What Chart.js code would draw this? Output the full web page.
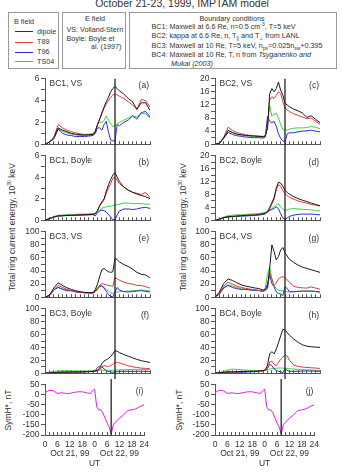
<!DOCTYPE html>
<html>
<head>
<meta charset="utf-8">
<script src="https://cdn.jsdelivr.net/npm/chart.js@4.4.1/dist/chart.umd.min.js"></script>
<style>
  body { margin: 0; background: #fff; }
  #page { position: relative; width: 342px; height: 472px; overflow: hidden;
          font-family: "Liberation Sans", Arial, sans-serif; color: #333; }
  canvas { position: absolute; }
  .title { position: absolute; left: 0; width: 364px; top: -2.5px; text-align: center;
           font-size: 10.5px; line-height: 10.5px; }
  .box { position: absolute; top: 12px; height: 57px; border: 1px solid #999; box-sizing: border-box;
         font-size: 7.2px; line-height: 9px; }
  .t { position: absolute; white-space: nowrap; }
  .sw { position: absolute; left: 6px; width: 18px; height: 0; border-top: 1px solid; }
  sup, sub { font-size: 5px; line-height: 0; }
  .ylab { position: absolute; white-space: nowrap; font-size: 8.5px;
          transform: translate(-50%, -50%) rotate(-90deg); }
</style>
</head>
<body>
<div id="page">
  <div class="title">October 21-23, 1999, IMPTAM model</div>

  <div class="box" style="left:8px;width:51px">
    <div class="t" style="left:5px;top:3.5px">B field</div>
    <div class="sw" style="top:18px;border-color:#333"></div><div class="t" style="left:28px;top:13.5px">dipole</div>
    <div class="sw" style="top:28.5px;border-color:#e8383b"></div><div class="t" style="left:28px;top:24px">T89</div>
    <div class="sw" style="top:38.5px;border-color:#2b2bd6"></div><div class="t" style="left:28px;top:34px">T96</div>
    <div class="sw" style="top:48px;border-color:#3bd43b"></div><div class="t" style="left:28px;top:43.5px">TS04</div>
  </div>

  <div class="box" style="left:62px;width:64px">
    <div class="t" style="left:0;width:64px;text-align:center;top:1px">E field</div>
    <div class="t" style="left:3.5px;top:11.5px">VS: Volland-Stern</div>
    <div class="t" style="left:3.5px;top:20.5px">Boyle: Boyle et</div>
    <div class="t" style="left:28px;top:29px">al. (1997)</div>
  </div>

  <div class="box" style="left:129px;width:208px">
    <div class="t" style="left:0;width:204px;text-align:center;top:1px">Boundary conditions</div>
    <div class="t" style="left:21.5px;top:9px">BC1: Maxwell at 6.6 Re, n=0.5 cm<sup>-3</sup>, T=5 keV</div>
    <div class="t" style="left:21.5px;top:18px">BC2: kappa at 6.6 Re, n, T<sub>||</sub> and T<sub>⊥</sub> from LANL</div>
    <div class="t" style="left:21.5px;top:27.5px">BC3: Maxwell at 10 Re, T=5 keV, n<sub>ps</sub>=0.025n<sub>sw</sub>+0.395</div>
    <div class="t" style="left:21.5px;top:36.5px">BC4: Maxwell at 10 Re, T, n from <i>Tsyganenko and</i></div>
    <div class="t" style="left:41px;top:45.5px"><i>Mukai (2003)</i></div>
  </div>

  <div class="ylab" style="left:11.5px;top:226.5px">Total ring current energy, 10<sup>30</sup> keV</div>
  <div class="ylab" style="left:182.5px;top:226.5px">Total ring current energy, 10<sup>30</sup> keV</div>
  <div class="ylab" style="left:8px;top:410px">SymH*, nT</div>
  <div class="ylab" style="left:178.5px;top:410px">SymH*, nT</div>
</div>

<script>
// hours since Oct 21, 1999 00 UT
const hours = [0,2,4,6,8,10,12,14,16,18,20,22,23,24,25,26,27,28,29,30,31,32,33,34,36,38,40,42,44,46,48];
const eventHour = 32;
const dayLabels = ['Oct 21, 99', 'Oct 22, 99'];
const modelNames = ['dipole', 'T89', 'T96', 'TS04'];

// (a) BC1, VS
const bc1VsDipole = [0,0.2,0.6,1.5,1.3,1.15,1.0,0.92,0.87,0.85,0.88,0.9,1.2,1.8,2.3,2.9,3.4,3.9,4.3,4.8,5.1,5.3,5.1,4.9,4.6,4.2,3.9,3.2,3.8,3.8,3.1];
const bc1VsT89    = [0,0.2,0.6,1.8,1.5,1.3,1.15,1.05,0.95,0.9,0.92,0.95,1.2,1.8,2.3,2.8,3.3,3.7,4.0,4.3,4.5,4.6,4.5,4.4,4.2,3.9,3.6,3.2,4.1,4.0,3.4];
const bc1VsT96    = [0,0.2,0.5,1.4,1.0,0.85,0.8,0.7,0.72,0.7,0.75,0.8,1.0,1.5,1.5,1.3,1.8,2.1,1.1,0.4,0.3,0.3,1.8,1.7,2.0,2.2,2.6,2.3,2.9,3.0,2.5];
const bc1VsTS04   = [0,0.2,0.5,1.4,1.2,1.05,0.95,0.85,0.82,0.8,0.8,0.82,1.1,1.8,2.0,2.0,2.2,2.6,2.2,1.9,1.6,1.7,1.9,2.0,2.2,2.4,2.6,2.5,2.8,2.8,2.4];

// (b) BC1, Boyle
const bc1BoyleDipole = [0,0.15,0.3,0.4,0.42,0.45,0.45,0.47,0.5,0.5,0.53,0.55,0.6,0.9,1.4,1.7,2.0,2.7,3.3,3.8,4.2,4.45,4.0,3.6,3.1,2.8,2.6,2.45,2.3,2.2,2.0];
const bc1BoyleT89    = [0,0.15,0.3,0.4,0.42,0.45,0.47,0.48,0.5,0.52,0.55,0.57,0.6,0.9,1.3,1.6,1.9,2.5,3.0,3.4,3.9,4.0,3.7,3.4,3.1,2.8,2.6,2.5,2.4,2.6,2.1];
const bc1BoyleT96    = [0,0.15,0.3,0.4,0.42,0.44,0.45,0.46,0.48,0.5,0.5,0.52,0.4,0.7,0.85,0.95,0.9,0.75,0.55,0.3,0.05,0.05,0.5,0.85,1.05,1.05,1.0,1.05,1.15,1.2,1.1];
const bc1BoyleTS04   = [0,0.15,0.35,0.45,0.5,0.52,0.55,0.55,0.57,0.58,0.6,0.6,0.65,0.8,0.95,1.1,1.2,1.25,1.3,1.3,1.35,1.4,1.45,1.5,1.6,1.6,1.55,1.55,1.55,1.5,1.5];

// (c) BC2, VS
const bc2VsDipole = [0,0.3,2.0,4.2,3.6,3.1,2.9,2.7,2.6,2.5,2.4,2.3,2.6,5.0,15.5,17,16,17,19,16.5,15,12.5,12,11.5,10.7,10.2,9.5,8.2,8.7,7.6,6.6];
const bc2VsT89    = [0,0.3,2.2,5.2,4.2,3.6,3.2,2.9,2.7,2.6,2.5,2.4,2.6,5.0,13.5,14.5,14,15,16,15.5,13,11,10.5,10,9.3,8.8,8.3,7.8,8.0,7.0,6.1];
const bc2VsT96    = [0,0.3,1.8,3.6,3.0,2.6,2.4,2.2,2.1,2.0,2.0,1.9,2.2,8.5,7.0,6.5,7.0,5.5,3.2,1.8,1.0,0.8,3.2,3.5,3.5,3.8,4.0,4.1,4.3,4.0,3.8];
const bc2VsTS04   = [0,0.3,2.0,4.2,3.5,3.0,2.8,2.6,2.5,2.4,2.3,2.2,2.5,6.0,11.8,8.5,9.2,9.4,8.0,6.0,4.5,4.2,4.3,4.6,4.9,5.0,5.0,5.1,5.4,5.2,4.7];

// (d) BC2, Boyle
const bc2BoyleDipole = [0,0.3,0.8,1.1,1.2,1.3,1.4,1.5,1.6,1.6,1.8,2.0,2.2,2.6,4.0,5.5,7.0,10,11.8,11.5,10.6,9.3,8.6,8.1,7.3,6.7,6.2,5.8,5.3,4.9,4.5];
const bc2BoyleT89    = [0,0.3,0.8,1.1,1.2,1.3,1.4,1.5,1.6,1.6,1.8,2.0,2.2,2.5,3.5,5.0,6.5,9.5,11,10.5,9.2,8.3,7.6,7.1,6.5,6.0,5.6,5.3,4.9,4.7,4.4];
const bc2BoyleT96    = [0,0.3,0.8,1.0,1.1,1.2,1.3,1.3,1.4,1.5,1.6,1.8,2.0,2.6,3.0,3.3,3.7,4.1,3.6,2.0,0.7,0.3,0.7,1.2,1.6,1.8,1.9,1.9,1.9,1.8,1.7];
const bc2BoyleTS04   = [0,0.4,1.0,1.4,1.6,1.7,1.7,1.8,1.9,2.0,2.1,2.3,2.5,2.8,3.2,3.6,4.2,4.8,5.1,4.2,3.4,3.0,3.2,3.5,3.6,3.5,3.4,3.3,3.2,3.0,2.9];

// (e) BC3, VS
const bc3VsDipole = [0,3,14,22,18,14.5,12,10,8.5,7.5,7,7,12,20,32,42,44,41,39,38,39,60,57,54,50,47,43,38,35,34,29.5];
const bc3VsT89    = [0,2,11,18,15,12,10,8.5,7.5,6.8,6.4,6.4,8,12,18,21,20,19,18,17.5,17,30,28,26,23,21,20,18,18,16,14];
const bc3VsT96    = [0,3,11,15,12,10,10,8,7.5,7,6.8,6.5,10,13,16,17,14,9,4,1.5,0.5,8,15,11,8.5,8,8.5,9.5,10,9,8];
const bc3VsTS04   = [0,3,12,15,13,11,9.5,8.3,7.5,7,6.7,6.6,10,15,18,18,15,12,9,7,6,7.5,8,8.5,9,9.5,10,10.5,11,10.5,9.5];

// (f) BC3, Boyle
const bc3BoyleDipole = [0,0.5,1.2,1.5,1.7,1.8,2,2,2.2,2.4,2.6,3,3.5,4.5,8,15,19,21,23,26,30,35,34,32,29,26.5,24,21.5,19.5,18,16.7];
const bc3BoyleT89    = [0,0.5,1.2,1.5,1.7,1.8,2,2,2.2,2.4,2.6,3,3.2,3.5,5,10,12,11,10.5,12,14,17,17,16,14,11.5,10,9,8,7.5,7];
const bc3BoyleT96    = [0,0.5,1,1.3,1.5,1.5,1.6,1.7,1.8,2,2.5,3,4,9,10.8,9.5,7,4,2.8,2,1.5,2,2.5,3,3,3,3,3,3,3,3];
const bc3BoyleTS04   = [0,1.5,3,3.5,4,4,3.8,3.6,3.5,3.5,3.7,4,4.5,5,5.5,5,4.5,4.5,4.5,4.5,4.5,5,5,5.2,5.5,5.8,6,6,6,5.8,5.5];

// (g) BC4, VS
const bc4VsDipole = [0,8,21,28,25.6,22,19,17,15.8,14.3,13.3,11,12,16,45,80,70,57,62,72,76,68,63,58,53,49,46,44,42,40,38];
const bc4VsT89    = [0,6,17,23,20,17,15,13.5,12.5,11.5,10.5,9,10,13,38,28,18,21.7,28,30.5,31.5,29.5,26.6,23,16.7,15,14.3,14,15.8,14,12.3];
const bc4VsT96    = [0,5,14,18,15,13,12,12,11,10.5,10,9,12,20,34,20.7,15.8,8.4,5.9,4.9,2.5,15.8,13.3,8.4,8.4,9,9.4,9.4,9.4,9,8];
const bc4VsTS04   = [0,5,15,19,17,15,13,12,11.5,11,10.5,10,14,35,46,28,18,13.3,10.8,9.8,10,8.4,8.4,8.5,8.4,9,9.4,9.4,9.4,8.5,7.4];

// (h) BC4, Boyle
const bc4BoyleDipole = [0,1,1.5,2,2.3,2.5,2.7,2.8,3,3,3.5,4,5,12.8,30,33.5,30,37.5,47,58,68,67,63,59,53,48,44,42,41,40.5,40];
const bc4BoyleT89    = [0,0.8,1.3,1.8,2,2.2,2.5,2.6,2.8,3,3.3,3.8,4.5,7,17.7,18.7,13.8,11.8,16.7,21.7,25,28.5,26.6,20,12.8,10.5,9.5,9,8.5,8,7.5];
const bc4BoyleT96    = [0,0.8,1.3,1.8,1.8,1.5,1.5,1.8,2.2,2.5,3,4,5,7.9,13.8,11.8,7,4.4,3,2,1,7,4.4,3,3,3.2,3.5,3.5,3.5,3.2,3];
const bc4BoyleTS04   = [0,1,3,5,6.4,6,5.4,5,4.4,4.2,4,4.4,4.8,5.4,6.5,7,7.5,7.9,8,8,8,7.9,7.5,7,6.5,6,5.5,5.2,5,4.7,4.4];

// (i), (j) SymH*, nT
const symH = [10,23,20,7,10,7,7,12,15,15,10,7,20,28,-60,-75,-75,-90,-115,-140,-160,-195,-150,-137,-116,-100,-78,-75,-70,-58,-50];

const modelColors = ['#1a1a1a', '#e8383b', '#2b2bd6', '#3bd43b'];
const AXIS = '#555';
const AXIS_W = 34, PLOT_W = 105, PAD_TOP = 5, PAD_RIGHT = 7, GAP = 4, BOTTOM_AXIS = 36;
const FONT = '"Liberation Sans", Arial, sans-serif';

Chart.defaults.font.family = FONT;
Chart.defaults.font.size = 8.5;
Chart.defaults.color = '#333';

// vertical line through all panels at the SymH minimum
const eventLine = {
  id: 'eventLine',
  afterDatasetsDraw(chart, args, opts) {
    const x = chart.scales.x.getPixelForValue(eventHour);
    const area = chart.chartArea;
    const ctx = chart.ctx;
    ctx.save();
    ctx.strokeStyle = '#222';
    ctx.lineWidth = 1.3;
    ctx.beginPath();
    ctx.moveTo(x, opts.first ? area.top : 0);
    ctx.lineTo(x, opts.last ? area.bottom : chart.height);
    ctx.stroke();
    ctx.restore();
  }
};

const panelText = {
  id: 'panelText',
  afterDraw(chart, args, opts) {
    const {ctx, chartArea} = chart;
    ctx.save();
    ctx.fillStyle = '#333';
    ctx.font = '8.5px ' + FONT;
    ctx.textBaseline = 'middle';
    if (opts.name) {
      ctx.textAlign = 'left';
      ctx.fillText(opts.name, chartArea.left + 4.5, chartArea.top + 5);
    }
    ctx.textAlign = 'right';
    ctx.fillText(opts.tag, chartArea.right - 1, chartArea.top + 7);
    ctx.restore();
  }
};

const page = document.getElementById('page');

function addPanel(p) {
  const canvas = document.createElement('canvas');
  const w = AXIS_W + PLOT_W + PAD_RIGHT;
  const h = PAD_TOP + p.h + (p.last ? BOTTOM_AXIS : GAP);
  canvas.width = w;
  canvas.height = h;
  canvas.style.left = (p.left - AXIS_W) + 'px';
  canvas.style.top = (p.top - PAD_TOP) + 'px';
  page.appendChild(canvas);

  new Chart(canvas, {
    type: 'line',
    data: {
      datasets: p.series.map((values, i) => ({
        label: p.labels ? p.labels[i] : modelNames[i],
        data: hours.map((x, j) => ({x: x, y: values[j]})),
        borderColor: p.colors ? p.colors[i] : modelColors[i],
        borderWidth: 1,
        pointRadius: 0,
        tension: 0
      }))
    },
    options: {
      responsive: false,
      animation: false,
      devicePixelRatio: 1,
      layout: {padding: {top: PAD_TOP, right: PAD_RIGHT, left: 0, bottom: 0}},
      plugins: {
        legend: {display: false},
        tooltip: {enabled: false},
        eventLine: {first: !!p.first, last: !!p.last},
        panelText: {name: p.name, tag: p.tag}
      },
      scales: {
        x: {
          type: 'linear', min: 0, max: 48,
          afterFit: s => { s.height = p.last ? BOTTOM_AXIS : GAP; },
          border: {color: AXIS, width: 1},
          grid: {drawOnChartArea: false, color: AXIS, tickLength: -3},
          ticks: {
            display: !!p.last, stepSize: 2, autoSkip: false, maxRotation: 0, padding: 8,
            font: {lineHeight: 1.1},
            callback: v => {
              if (v % 6 !== 0) return '';
              const lab = v === 48 ? '24' : String(v % 24);
              if (v === 12) return [lab, dayLabels[0]];
              if (v === 36) return [lab, dayLabels[1]];
              return lab;
            }
          },
          title: {display: !!p.last, text: 'UT', padding: {top: 0, bottom: 2}}
        },
        y: {
          min: p.min, max: p.max,
          afterFit: s => { s.width = AXIS_W; },
          border: {color: AXIS, width: 1},
          grid: {drawOnChartArea: false, color: AXIS, tickLength: 4},
          ticks: {
            stepSize: p.step, autoSkip: false, padding: 1.5,
            font: {lineHeight: 1},
            callback: v => (v % p.labelStep === 0 ? String(v) : '')
          }
        }
      }
    },
    plugins: [eventLine, panelText]
  });
}

const rows = [
  {top: 78, h: 68}, {top: 155, h: 67}, {top: 231, h: 68}, {top: 308, h: 67}, {top: 384, h: 51}
];
const colLeft = [45, 215];

const panels = [
  {col: 0, row: 0, name: 'BC1, VS', tag: '(a)', min: 0, max: 6, step: 1, labelStep: 2,
   series: [bc1VsDipole, bc1VsT89, bc1VsT96, bc1VsTS04]},
  {col: 0, row: 1, name: 'BC1, Boyle', tag: '(b)', min: 0, max: 6, step: 1, labelStep: 2,
   series: [bc1BoyleDipole, bc1BoyleT89, bc1BoyleT96, bc1BoyleTS04]},
  {col: 0, row: 2, name: 'BC3, VS', tag: '(e)', min: 0, max: 100, step: 10, labelStep: 20,
   series: [bc3VsDipole, bc3VsT89, bc3VsT96, bc3VsTS04]},
  {col: 0, row: 3, name: 'BC3, Boyle', tag: '(f)', min: 0, max: 100, step: 10, labelStep: 20,
   series: [bc3BoyleDipole, bc3BoyleT89, bc3BoyleT96, bc3BoyleTS04]},
  {col: 0, row: 4, name: '', tag: '(i)', min: -200, max: 50, step: 50, labelStep: 50,
   series: [symH], labels: ['SymH*'], colors: ['#e020e0']},
  {col: 1, row: 0, name: 'BC2, VS', tag: '(c)', min: 0, max: 20, step: 2, labelStep: 4,
   series: [bc2VsDipole, bc2VsT89, bc2VsT96, bc2VsTS04]},
  {col: 1, row: 1, name: 'BC2, Boyle', tag: '(d)', min: 0, max: 20, step: 2, labelStep: 4,
   series: [bc2BoyleDipole, bc2BoyleT89, bc2BoyleT96, bc2BoyleTS04]},
  {col: 1, row: 2, name: 'BC4, VS', tag: '(g)', min: 0, max: 100, step: 10, labelStep: 20,
   series: [bc4VsDipole, bc4VsT89, bc4VsT96, bc4VsTS04]},
  {col: 1, row: 3, name: 'BC4, Boyle', tag: '(h)', min: 0, max: 100, step: 10, labelStep: 20,
   series: [bc4BoyleDipole, bc4BoyleT89, bc4BoyleT96, bc4BoyleTS04]},
  {col: 1, row: 4, name: '', tag: '(j)', min: -200, max: 50, step: 50, labelStep: 50,
   series: [symH], labels: ['SymH*'], colors: ['#e020e0']}
];

panels.forEach(p => {
  addPanel(Object.assign({}, p, {
    left: colLeft[p.col],
    top: rows[p.row].top,
    h: rows[p.row].h,
    first: p.row === 0,
    last: p.row === rows.length - 1
  }));
});
</script>
</body>
</html>
